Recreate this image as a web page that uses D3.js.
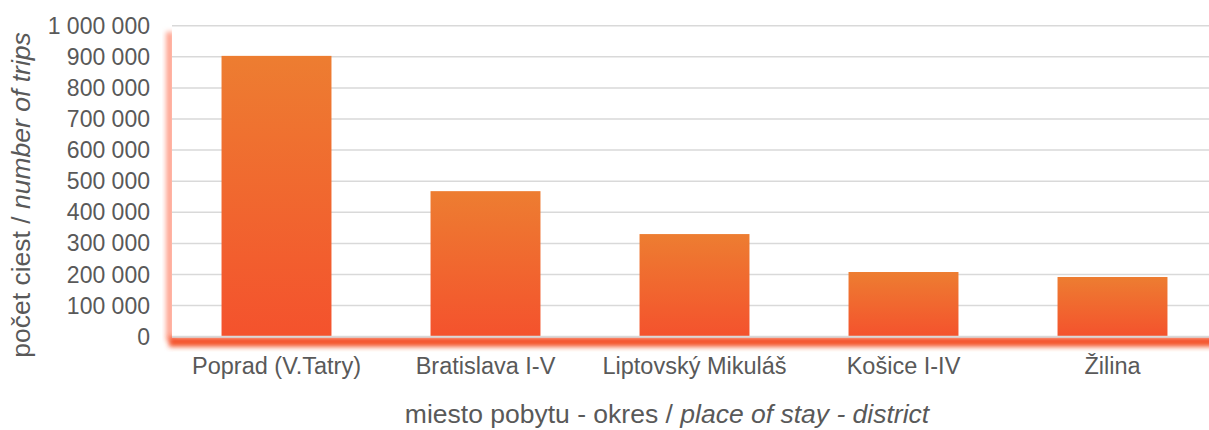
<!DOCTYPE html>
<html>
<head>
<meta charset="utf-8">
<script src="https://cdn.jsdelivr.net/npm/d3@7"></script>
<style>
  body { margin: 0; background: #fff; }
  text { font-family: "Liberation Sans", Arial, sans-serif; fill: #595959; }
</style>
</head>
<body>
<div id="chart"></div>
<script>
// data
const categories = ["Poprad (V.Tatry)", "Bratislava I-V", "Liptovský Mikuláš", "Košice I-IV", "Žilina"];
const trips = [903000, 468000, 330000, 208000, 192000];
const yTicks = [0, 100000, 200000, 300000, 400000, 500000, 600000, 700000, 800000, 900000, 1000000];

const W = 1209, H = 430;
const plot = { left: 172, right: 1217, top: 25.7, bottom: 336.7 };

const svg = d3.select("#chart").append("svg")
    .attr("width", W)
    .attr("height", H);

const defs = svg.append("defs");
defs.append("filter").attr("id", "blurS")
    .attr("x", "-50%").attr("y", "-50%").attr("width", "200%").attr("height", "200%")
    .append("feGaussianBlur").attr("stdDeviation", 2.5);

const grad = defs.append("linearGradient")
    .attr("id", "barGrad")
    .attr("x1", 0).attr("y1", 0).attr("x2", 0).attr("y2", 1);
grad.append("stop").attr("offset", "0%").attr("stop-color", "#ED7D31");
grad.append("stop").attr("offset", "100%").attr("stop-color", "#F4522D");

//Scales
const x = d3.scaleBand()
    .domain(categories)
    .range([plot.left, plot.right])
    .paddingInner(0.474)
    .paddingOuter(0.237);

const y = d3.scaleLinear()
    .domain([0, 1000000])
    .range([plot.bottom, plot.top]);

//Shadow of the plot area
svg.append("rect")
    .attr("x", plot.left - 6).attr("y", y(980000))
    .attr("width", 8).attr("height", plot.bottom - y(980000) + 4)
    .attr("fill", "#FFA592")
    .attr("filter", "url(#blurS)");
svg.append("rect")
    .attr("x", plot.left - 3).attr("y", plot.bottom)
    .attr("width", W - plot.left + 20).attr("height", 10)
    .attr("fill", "#F4522C")
    .attr("filter", "url(#blurS)");
svg.append("rect")
    .attr("x", plot.left).attr("y", 0)
    .attr("width", W).attr("height", plot.bottom)
    .attr("fill", "#fff");

//Gridlines
svg.append("g")
    .selectAll("line")
    .data(yTicks.filter(d => d > 0))
    .join("line")
    .attr("x1", plot.left).attr("x2", W)
    .attr("y1", d => y(d)).attr("y2", d => y(d))
    .attr("stroke", "#D9D9D9")
    .attr("stroke-width", 1.5);

//Y axis labels
const fmt = d => d3.format(",")(d).replace(/,/g, " ");
svg.append("g")
    .selectAll("text")
    .data(yTicks)
    .join("text")
    .attr("x", 150)
    .attr("y", d => y(d))
    .attr("dy", "0.35em")
    .attr("text-anchor", "end")
    .style("font-size", "23px")
    .text(fmt);

//Bars
svg.append("g")
    .selectAll("rect")
    .data(trips)
    .join("rect")
    .attr("x", (d, i) => x(categories[i]))
    .attr("y", d => y(d))
    .attr("width", x.bandwidth())
    .attr("height", d => y(0) - y(d))
    .attr("fill", "url(#barGrad)");

//Axis line
svg.append("line")
    .attr("x1", plot.left).attr("x2", W)
    .attr("y1", plot.bottom).attr("y2", plot.bottom)
    .attr("stroke", "#D9D9D9")
    .attr("stroke-width", 2);

//Category labels
svg.append("g")
    .selectAll("text")
    .data(categories)
    .join("text")
    .attr("x", d => x(d) + x.bandwidth() / 2)
    .attr("y", 374)
    .attr("text-anchor", "middle")
    .style("font-size", "23.5px")
    .text(d => d);

//Axis titles
const xt = svg.append("text")
    .attr("x", 667)
    .attr("y", 423)
    .attr("text-anchor", "middle")
    .style("font-size", "26.5px");
xt.append("tspan").text("miesto pobytu - okres / ");
xt.append("tspan").style("font-style", "italic").text("place of stay - district");

const yt = svg.append("text")
    .attr("transform", "translate(30,195) rotate(-90)")
    .attr("text-anchor", "middle")
    .style("font-size", "26.5px");
yt.append("tspan").text("počet ciest / ");
yt.append("tspan").style("font-style", "italic").text("number of trips");
</script>
</body>
</html>
